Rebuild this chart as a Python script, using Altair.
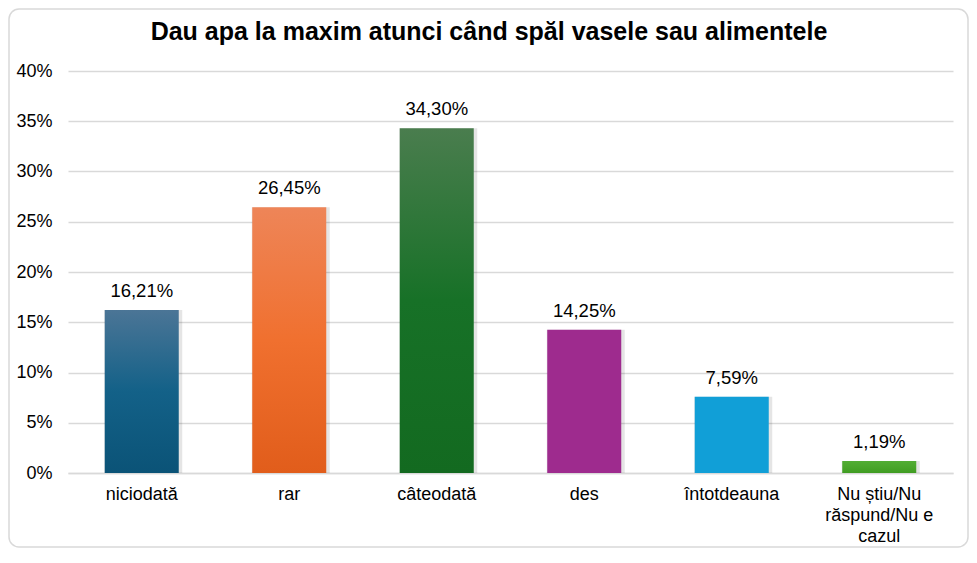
import altair as alt
import pandas as pd

## data
title = "Dau apa la maxim atunci când spăl vasele sau alimentele"
categories = ["niciodată", "rar", "câteodată", "des", "întotdeauna", "Nu știu/Nu răspund/Nu e cazul"]
values = [0.1621, 0.2645, 0.3430, 0.1425, 0.0759, 0.0119]
tops = ["#4b7596", "#ee8558", "#4a7d4e", "#9e2b8e", "#119fd7", "#52ad34"]
mids = ["#136188", "#f0702f", "#177127", "#9e2b8e", "#119fd7", "#4aa62b"]
bottoms = ["#0b5377", "#e15d1b", "#136a20", "#9e2b8e", "#119fd7", "#3f9c22"]

df = pd.DataFrame({"cat": categories, "val": values})
df["lbl"] = [f"{v * 100:.2f}".replace(".", ",") + "%" for v in values]

W, H = 885, 402
font = "Liberation Sans"

x_enc = alt.X("cat:N", scale=alt.Scale(domain=categories, paddingInner=0, paddingOuter=0),
              axis=alt.Axis(title=None, labelAngle=0, labelFontSize=18, labelColor="#000000",
                            labelPadding=12, ticks=False, domain=True, domainColor="#d9d9d9",
                            domainWidth=1.5, labelLineHeight=21, labelBaseline="top",
                            labelExpr="datum.label == 'Nu știu/Nu răspund/Nu e cazul' ? "
                                      "['Nu știu/Nu', 'răspund/Nu e', 'cazul'] : datum.label"))
y_enc = alt.Y("val:Q", scale=alt.Scale(domain=[0, 0.4], nice=False),
              axis=alt.Axis(title=None, format=".0%", values=[i * 0.05 for i in range(9)],
                            labelFontSize=18, labelColor="#000000", labelPadding=16,
                            ticks=False, domain=False, gridColor="#d9d9d9", gridWidth=1.5))

base = alt.Chart(df)

## one bar layer per category so each gets its own gradient
bars = []
for c, t, m, b in zip(categories, tops, mids, bottoms):
    grad = alt.LinearGradient(gradient="linear", x1=0, x2=0, y1=0, y2=1,
                              stops=[alt.GradientStop(color=t, offset=0),
                                     alt.GradientStop(color=m, offset=0.5),
                                     alt.GradientStop(color=b, offset=1)])
    shadow = base.transform_filter(alt.datum.cat == c).mark_bar(
        color="#000000", opacity=0.10, size=78, xOffset=1.5).encode(x=x_enc, y=y_enc)
    bar = base.transform_filter(alt.datum.cat == c).mark_bar(
        color=grad, size=74).encode(x=x_enc, y=y_enc)
    bars += [shadow, bar]

labels = base.mark_text(fontSize=18.5, baseline="bottom", dy=-9, color="#000000", font=font).encode(
    x=x_enc, y=y_enc, text="lbl:N")

## chart border and title drawn in the padding area
frame = alt.Chart(pd.DataFrame({"k": [0]})).mark_rect(
    fillOpacity=0, stroke="#d9d9d9", strokeWidth=1.5, cornerRadius=10).encode(
    x=alt.value(-59), x2=alt.value(W + 15), y=alt.value(-62), y2=alt.value(H + 74))

head = alt.Chart(pd.DataFrame({"t": [title]})).mark_text(
    fontSize=25, fontWeight="bold", font=font, color="#000000", baseline="alphabetic").encode(
    x=alt.value(421), y=alt.value(-31), text="t:N")

chart = alt.layer(frame, *bars, labels, head).properties(
    width=W, height=H,
    autosize=alt.AutoSizeParams(type="none"),
    padding={"left": 60, "top": 63, "right": 16, "bottom": 76},
).configure_view(stroke=None).configure_axis(labelFont=font)

chart.save("out.html", embed_options={"renderer": "svg", "actions": False})
